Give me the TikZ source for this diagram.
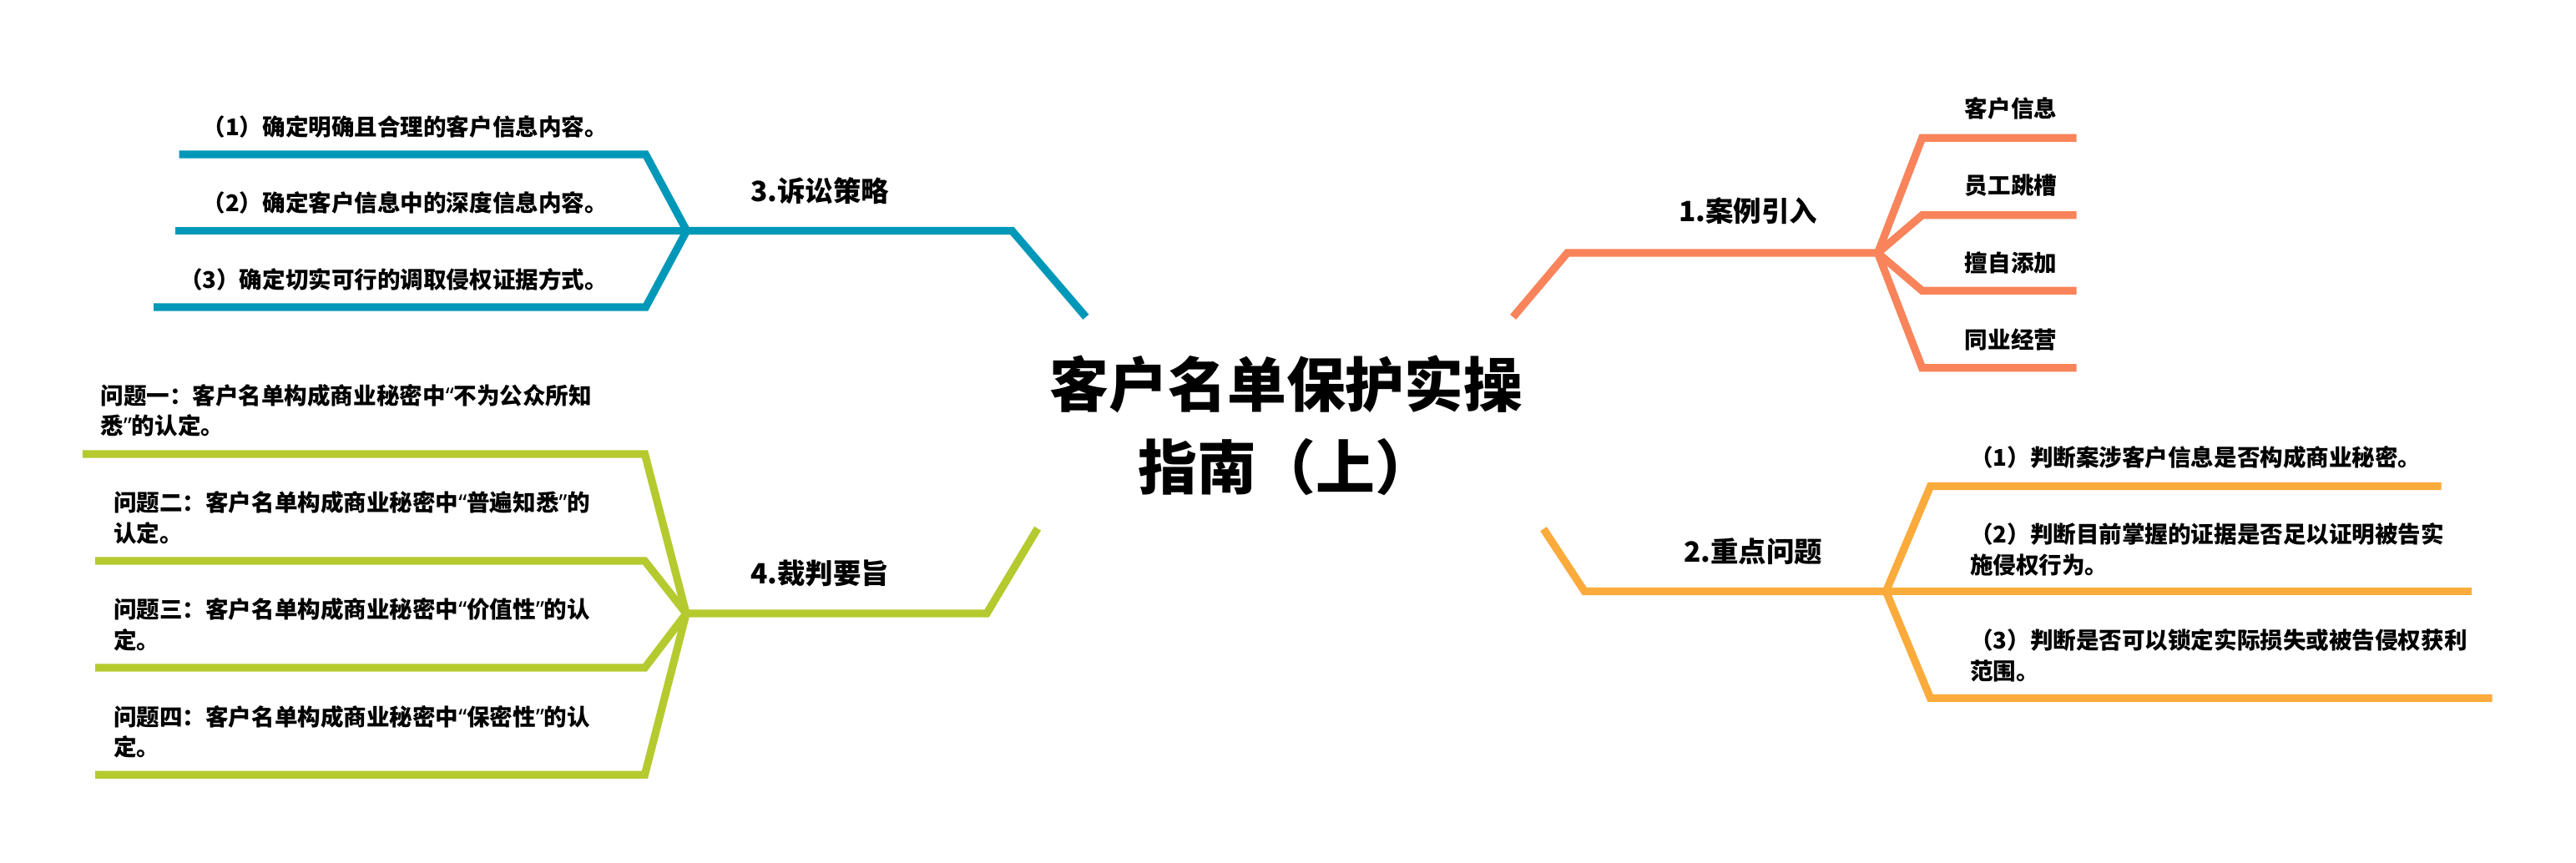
\documentclass[tikz,border=0pt]{standalone}
\usepackage{fontspec}
\setmainfont{Noto Sans CJK SC}
\newfontfamily\quotefont{Noto Sans}
\newcommand{\qopen}{{\quotefont “}}
\newcommand{\qclose}{{\quotefont ”}}
\usepackage{tikz}
\usetikzlibrary{positioning}

\definecolor{coral}{HTML}{F9835A}
\definecolor{amber}{HTML}{FBAB3B}
\definecolor{teal}{HTML}{0098B8}
\definecolor{lime}{HTML}{B5CA2E}

\begin{document}
\begin{tikzpicture}[x=1pt, y=-1pt,
    every node/.style={inner sep=0pt, font=\bfseries},
    title/.style={font=\fontsize{36}{50}\selectfont\bfseries, align=center},
    topic/.style={font=\fontsize{17}{20}\selectfont\bfseries},
    leaf/.style={font=\fontsize{14}{18.5}\selectfont\bfseries, align=left},
    branch/.style={line width=4.7pt, line join=miter, line cap=butt},
]
\fill[white] (0,0) rectangle (1568,525);
\useasboundingbox (0,0) rectangle (1568,525);

\node[title] (root) at (783,259) {客户名单保护实操\\指南（上）};

\coordinate (b1s) at (921,193);
\coordinate (b1k) at (954,154);
\coordinate (b1p) at (1143,154);
\coordinate (k1a) at (1170,84);
\coordinate (e1a) at (1264,84);
\coordinate (k1b) at (1170,131);
\coordinate (e1b) at (1264,131);
\coordinate (k1c) at (1170,177);
\coordinate (e1c) at (1264,177);
\coordinate (k1d) at (1170,224);
\coordinate (e1d) at (1264,224);
\draw[branch, coral] (b1s) -- (b1k) -- (b1p);
\draw[branch, coral] (b1p) -- (k1a) -- (e1a);
\draw[branch, coral] (b1p) -- (k1b) -- (e1b);
\draw[branch, coral] (b1p) -- (k1c) -- (e1c);
\draw[branch, coral] (b1p) -- (k1d) -- (e1d);
\node[topic] (case) at (1064,128.5) {1.案例引入};
\node[leaf] (info) at (1224,66) {客户信息};
\node[leaf] (staff) at (1224,113) {员工跳槽};
\node[leaf] (adding) at (1224,160) {擅自添加};
\node[leaf] (rival) at (1224,207) {同业经营};

\coordinate (b2s) at (939.5,322);
\coordinate (b2k) at (964.5,360);
\coordinate (b2p) at (1148,360);
\coordinate (k2a) at (1175,296);
\coordinate (e2a) at (1486,296);
\coordinate (e2b) at (1504.5,360);
\coordinate (k2c) at (1175,425);
\coordinate (e2c) at (1517,425);
\draw[branch, amber] (b2s) -- (b2k) -- (b2p);
\draw[branch, amber] (b2p) -- (k2a) -- (e2a);
\draw[branch, amber] (b2p) -- (e2b);
\draw[branch, amber] (b2p) -- (k2c) -- (e2c);
\node[topic] (issue) at (1067,335.5) {2.重点问题};
\node[leaf, anchor=west] (secret) at (1199,278.5) {（1）判断案涉客户信息是否构成商业秘密。};
\node[leaf, anchor=west] (proof) at (1199,334.5) {（2）判断目前掌握的证据是否足以证明被告实\\施侵权行为。};
\node[leaf, anchor=west] (loss) at (1199,399) {（3）判断是否可以锁定实际损失或被告侵权获利\\范围。};

\coordinate (b3s) at (661,193);
\coordinate (b3k) at (616,140.5);
\coordinate (b3p) at (418,140.5);
\coordinate (k3a) at (393,94);
\coordinate (e3a) at (109,94);
\coordinate (e3b) at (106.7,140.5);
\coordinate (k3c) at (393,187);
\coordinate (e3c) at (93.5,187);
\draw[branch, teal] (b3s) -- (b3k) -- (b3p);
\draw[branch, teal] (b3p) -- (k3a) -- (e3a);
\draw[branch, teal] (b3p) -- (e3b);
\draw[branch, teal] (b3p) -- (k3c) -- (e3c);
\node[topic] (suit) at (499,116) {3.诉讼策略};
\node[leaf, anchor=east] (clear) at (370,77) {（1）确定明确且合理的客户信息内容。};
\node[leaf, anchor=east] (deep) at (370,123.5) {（2）确定客户信息中的深度信息内容。};
\node[leaf, anchor=east] (evid) at (370,170) {（3）确定切实可行的调取侵权证据方式。};

\coordinate (b4s) at (631.6,321.7);
\coordinate (b4k) at (600.6,373.5);
\coordinate (b4p) at (417.7,373.5);
\coordinate (k4a) at (392.5,276.4);
\coordinate (e4a) at (50.3,276.4);
\coordinate (k4b) at (392.5,341.5);
\coordinate (e4b) at (58,341.5);
\coordinate (k4c) at (392.5,406.5);
\coordinate (e4c) at (58,406.5);
\coordinate (k4d) at (392.5,471.6);
\coordinate (e4d) at (58,471.6);
\draw[branch, lime] (b4s) -- (b4k) -- (b4p);
\draw[branch, lime] (b4p) -- (k4a) -- (e4a);
\draw[branch, lime] (b4p) -- (k4b) -- (e4b);
\draw[branch, lime] (b4p) -- (k4c) -- (e4c);
\draw[branch, lime] (b4p) -- (k4d) -- (e4d);
\node[topic] (ruling) at (499,349) {4.裁判要旨};
\node[leaf, anchor=west] (qone) at (61,249.75) {问题一：客户名单构成商业秘密中\qopen 不为公众所知\\悉\qclose 的认定。};
\node[leaf, anchor=west] (qtwo) at (69,315.25) {问题二：客户名单构成商业秘密中\qopen 普遍知悉\qclose 的\\认定。};
\node[leaf, anchor=west] (qthree) at (69,380.25) {问题三：客户名单构成商业秘密中\qopen 价值性\qclose 的认\\定。};
\node[leaf, anchor=west] (qfour) at (69,445.5) {问题四：客户名单构成商业秘密中\qopen 保密性\qclose 的认\\定。};
\end{tikzpicture}
\end{document}
